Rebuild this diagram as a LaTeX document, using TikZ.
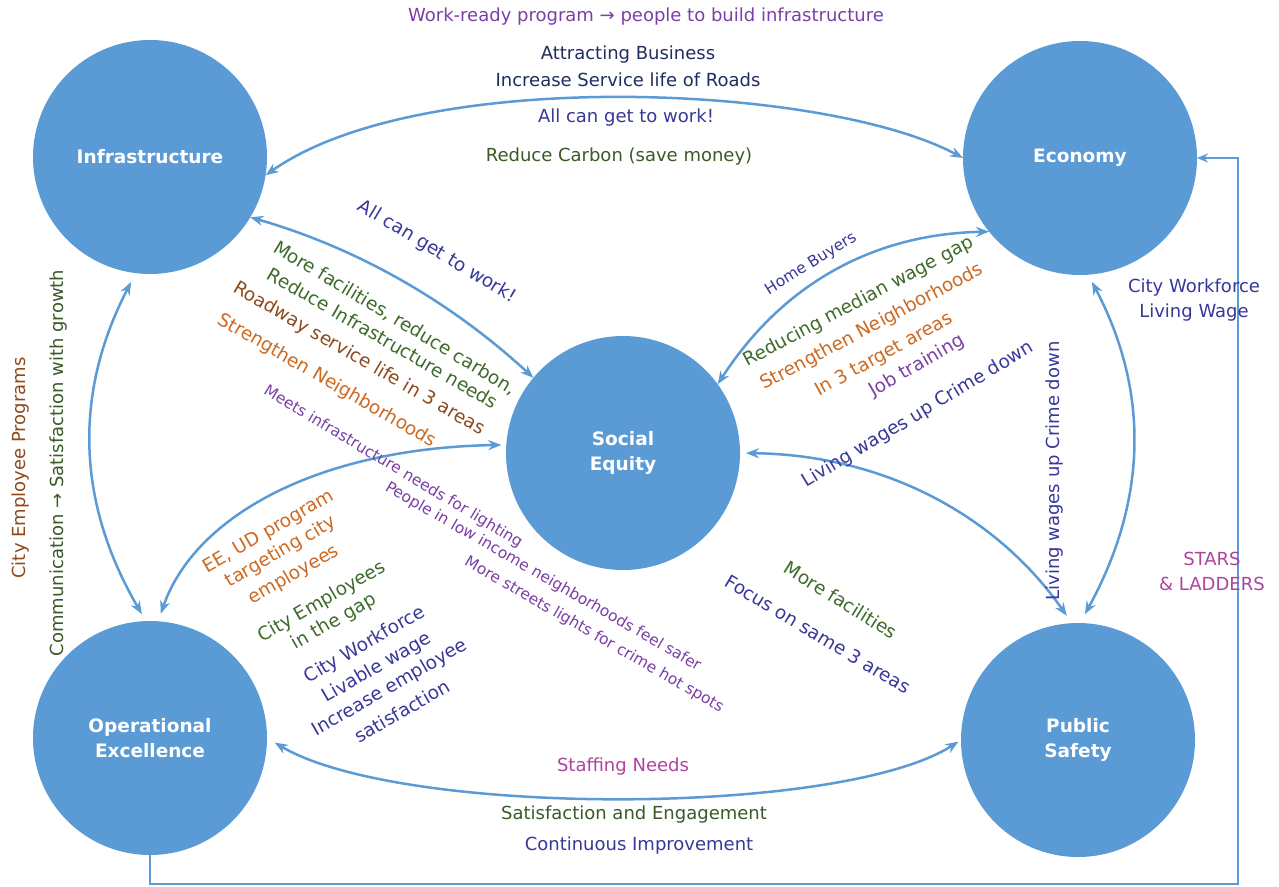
\documentclass[tikz,border=0pt]{standalone}
\usepackage{fontspec}
\setmainfont{DejaVu Sans}
\usetikzlibrary{arrows.meta}
\definecolor{cblue}{HTML}{5B9BD5}
\definecolor{cindigo}{HTML}{38389A}
\definecolor{cnavy}{HTML}{1F2E5E}
\definecolor{cpurple}{HTML}{7B3FA6}
\definecolor{cgreen}{HTML}{3D6B2A}
\definecolor{cdkgreen}{HTML}{3A5A28}
\definecolor{corange}{HTML}{CC6A24}
\definecolor{cbrown}{HTML}{8E4A1C}
\definecolor{cmagenta}{HTML}{B0449C}
\begin{document}
\begin{tikzpicture}[x=1pt,y=-1pt,
  hub/.style={circle,fill=cblue,draw=none,minimum size=234pt,inner sep=0pt,outer sep=0pt,
    text=white,font=\fontsize{18.5}{25}\selectfont\bfseries,align=center},
  link/.style={draw=cblue,line width=2.5pt,
    {Stealth[length=13pt,width=10pt]}-{Stealth[length=13pt,width=10pt]}},
  fb/.style={draw=cblue,line width=1.6pt,-{Stealth[length=11pt,width=9pt]}},
  lbl/.style={inner sep=0pt,font=\fontsize{18}{25}\selectfont,align=center},
  dlbl/.style={inner sep=0pt,font=\fontsize{18.5}{22}\selectfont},
  slbl/.style={inner sep=0pt,font=\fontsize{15.5}{19}\selectfont}]
\useasboundingbox (0,0) rectangle (1279,886);
\fill[white] (0,0) rectangle (1279,886);

% hubs
\node[hub] (inf) at (150,157) {Infrastructure};
\node[hub] (eco) at (1080,158) {Economy};
\node[hub] (se) at (623,453) {Social\\Equity};
\node[hub] (oe) at (150,738) {Operational\\Excellence};
\node[hub] (ps) at (1078,740) {Public\\Safety};

% connectors
\draw[link] (inf.-9) .. controls (420,66) and (825,84) .. (eco.180);
\draw[link] (inf.-31) .. controls (357,248) and (450,301) .. (se.140);
\draw[link] (eco.219) .. controls (872,234) and (782,285) .. (se.36);
\draw[link,shorten <=10pt,shorten >=8pt] (inf.-97) .. controls (73,394) and (77,503) .. (oe.92);
\draw[link,shorten <=8pt,shorten >=5pt] (oe.86) .. controls (195,515) and (320,448) .. (se.176);
\draw[link,shorten <=6pt,shorten >=9pt] (se.0) .. controls (890,455) and (1000,520) .. (ps.93);
\draw[link,shorten <=8pt,shorten >=10pt] (eco.-86) .. controls (1150,392) and (1147,501) .. (ps.89);
\draw[link,shorten <=9pt,shorten >=3pt] (oe.0) .. controls (400,817) and (840,817) .. (ps.180);
\coordinate (fb1) at (150,884);
\coordinate (fb2) at (1238,884);
\draw[fb] (oe.south) -- (fb1) -- (fb2) |- (eco.east);

% horizontal labels
\node[lbl,text=cpurple] (t1) at (646,17) {Work-ready program → people to build infrastructure};
\node[lbl,text=cnavy] (t2) at (628,55) {Attracting Business};
\node[lbl,text=cnavy] (t3) at (628,80) {Increase Service life of Roads};
\node[lbl,text=cindigo] (t4) at (626,118) {All can get to work!};
\node[lbl,text=cdkgreen] (t5) at (619,157) {Reduce Carbon (save money)};
\node[lbl,text=cbrown,rotate=90] (t6) at (21,468) {City Employee Programs};
\node[lbl,text=cdkgreen,rotate=90] (t7) at (59,463) {Communication → Satisfaction with growth};
\node[lbl,text=cindigo] (t8) at (1194,300) {City Workforce\\Living Wage};
\node[lbl,text=cmagenta] (t9) at (1212,571) {STARS\\\& LADDERS};
\node[lbl,text=cindigo,rotate=90] (t10) at (1055,471) {Living wages up Crime down};
\node[lbl,text=cmagenta] (t11) at (623,767) {Staffing Needs};
\node[lbl,text=cdkgreen] (t12) at (634,815) {Satisfaction and Engagement};
\node[lbl,text=cindigo] (t13) at (639,846) {Continuous Improvement};

% diagonal labels: Infrastructure - Social Equity
\node[dlbl,text=cindigo,rotate=-31] (d1) at (437,252) {All can get to work!};
\node[dlbl,text=cgreen,rotate=-31] (d2) at (395,318) {More facilities, reduce carbon,};
\node[dlbl,text=cgreen,rotate=-30] (d3) at (383,338) {Reduce Infrastructure needs};
\node[dlbl,text=cbrown,rotate=-30] (d4) at (359,359) {Roadway service life in 3 areas};
\node[dlbl,text=corange,rotate=-30] (d5) at (327,381) {Strengthen Neighborhoods};
\node[slbl,text=cpurple,rotate=-31] (d6) at (393,467) {Meets infrastructure needs for lighting};
\node[slbl,text=cpurple,rotate=-30] (d7) at (543,577) {People in low income neighborhoods feel safer};
\node[slbl,text=cpurple,rotate=-30] (d8) at (594,635) {More streets lights for crime hot spots};

% Operational Excellence - Social Equity
\node[dlbl,text=corange,rotate=30] (d9) at (269,532) {EE, UD program};
\node[dlbl,text=corange,rotate=30] (d10) at (281,552) {targeting city};
\node[dlbl,text=corange,rotate=30] (d11) at (294,575) {employees};
\node[dlbl,text=cgreen,rotate=30] (d12) at (322,602) {City Employees};
\node[dlbl,text=cgreen,rotate=30] (d13) at (334,622) {in the gap};
\node[dlbl,text=cindigo,rotate=30] (d14) at (365,645) {City Workforce};
\node[dlbl,text=cindigo,rotate=30] (d15) at (377,668) {Livable wage};
\node[dlbl,text=cindigo,rotate=30] (d16) at (390,688) {Increase employee};
\node[dlbl,text=cindigo,rotate=30] (d17) at (402,711) {satisfaction};

% Economy - Social Equity
\node[slbl,text=cindigo,rotate=32] (d18) at (811,264) {Home Buyers};
\node[dlbl,text=cgreen,rotate=28] (d19) at (859,302) {Reducing median wage gap};
\node[dlbl,text=corange,rotate=28] (d20) at (872,327) {Strengthen Neighborhoods};
\node[dlbl,text=corange,rotate=29] (d21) at (884,355) {In 3 target areas};
\node[dlbl,text=cpurple,rotate=30] (d22) at (917,366) {Job training};
\node[dlbl,text=cindigo,rotate=31] (d23) at (918,415) {Living wages up Crime down};

% Social Equity - Public Safety
\node[dlbl,text=cgreen,rotate=-32] (d24) at (841,600) {More facilities};
\node[dlbl,text=cindigo,rotate=-31] (d25) at (818,634) {Focus on same 3 areas};
\end{tikzpicture}
\end{document}
